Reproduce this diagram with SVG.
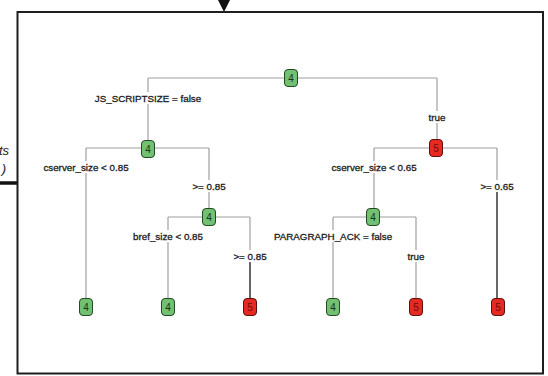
<svg xmlns="http://www.w3.org/2000/svg" width="548" height="376" viewBox="0 0 548 376">
  <style>
    .frame { fill: #ffffff; stroke: #1e1e1e; stroke-width: 2; }
    .edge { stroke: #a0a0a0; stroke-width: 1.2; fill: none; }
    .edge-dark { stroke: #2a2a2a; stroke-width: 1.2; fill: none; }
    .lbl { font-family: "Liberation Sans", Arial, sans-serif; font-size: 9.8px; fill: #1a1a1a; stroke: #1a1a1a; stroke-width: 0.3; text-anchor: middle; }
    .box-g { fill: #72c172; stroke: #244a24; stroke-width: 1; }
    .box-r { fill: #e62a22; stroke: #5c1010; stroke-width: 1; }
    .num { font-family: "Liberation Sans", Arial, sans-serif; font-size: 10px; text-anchor: middle; }
    .num-g { fill: #163416; }
    .num-r { fill: #6e0c0c; }
    .side { font-family: "Liberation Sans", Arial, sans-serif; font-size: 13px; font-style: italic; fill: #222; text-anchor: end; }
  </style>
  <defs>
    <rect id="nodebox" x="-6.5" y="-8.5" width="13" height="17" rx="3.5" ry="3.5"/>
  </defs>

  <rect x="0" y="0" width="548" height="376" fill="#ffffff"/>

  <!-- incoming arrow and side link -->
  <polygon points="218,0 230,0 224,12" fill="#111"/>
  <line x1="0" y1="183" x2="18" y2="183" stroke="#111" stroke-width="3.5"/>
  <text class="side" x="9" y="155">ts</text>
  <text class="side" x="6" y="173">)</text>

  <!-- frame -->
  <rect class="frame" x="17.5" y="12" width="525.5" height="361.5"/>

  <!-- connectors -->
  <g id="connectors">
    <!-- root split -->
    <path class="edge" d="M148,78 H437 M148,78 V92 M148,104 V141 M437,78 V111 M437,123 V140"/>
    <!-- left subtree level 1 -->
    <path class="edge" d="M86,148 H209 M86,148 V161 M86,173 V299 M209,148 V180 M209,192 V209"/>
    <!-- right subtree level 1 -->
    <path class="edge" d="M374,148 H497 M374,148 V161 M374,173 V209 M497,148 V180 M497,192 V299"/>
    <!-- left subtree level 2 -->
    <path class="edge" d="M168,217 H250 M168,217 V230 M168,242 V299 M250,217 V250 M250,262 V299"/>
    <!-- right subtree level 2 -->
    <path class="edge" d="M333,217 H416 M333,217 V230 M333,242 V299 M416,217 V250 M416,262 V299"/>
    <path class="edge-dark" d="M250,262 V299 M497,192 V299"/>

    <text class="lbl" x="148" y="101.5">JS_SCRIPTSIZE = false</text>
    <text class="lbl" x="437" y="120.5">true</text>
    <text class="lbl" x="86" y="171">cserver_size &lt; 0.85</text>
    <text class="lbl" x="209" y="190">&gt;= 0.85</text>
    <text class="lbl" x="374" y="171">cserver_size &lt; 0.65</text>
    <text class="lbl" x="497" y="190">&gt;= 0.65</text>
    <text class="lbl" x="168" y="240">bref_size &lt; 0.85</text>
    <text class="lbl" x="250" y="260">&gt;= 0.85</text>
    <text class="lbl" x="333" y="240">PARAGRAPH_ACK = false</text>
    <text class="lbl" x="416" y="260">true</text>
  </g>

  <!-- internal nodes -->
  <g id="n-root" transform="translate(291,78)">
    <use href="#nodebox" class="box-g"/>
    <text class="num num-g" x="0" y="3.6">4</text>
  </g>
  <g id="n-js-false" transform="translate(148,149)">
    <use href="#nodebox" class="box-g"/>
    <text class="num num-g" x="0" y="3.6">4</text>
  </g>
  <g id="n-js-true" transform="translate(436,148)">
    <use href="#nodebox" class="box-r"/>
    <text class="num num-r" x="0" y="3.6">5</text>
  </g>
  <g id="n-cserver-hi" transform="translate(209,217)">
    <use href="#nodebox" class="box-g"/>
    <text class="num num-g" x="0" y="3.6">4</text>
  </g>
  <g id="n-cserver-lo" transform="translate(373,217)">
    <use href="#nodebox" class="box-g"/>
    <text class="num num-g" x="0" y="3.6">4</text>
  </g>

  <!-- leaves -->
  <g id="leaf-1" transform="translate(86,307)">
    <use href="#nodebox" class="box-g"/>
    <text class="num num-g" x="0" y="3.6">4</text>
  </g>
  <g id="leaf-2" transform="translate(168,307)">
    <use href="#nodebox" class="box-g"/>
    <text class="num num-g" x="0" y="3.6">4</text>
  </g>
  <g id="leaf-3" transform="translate(250,307)">
    <use href="#nodebox" class="box-r"/>
    <text class="num num-r" x="0" y="3.6">5</text>
  </g>
  <g id="leaf-4" transform="translate(333,307)">
    <use href="#nodebox" class="box-g"/>
    <text class="num num-g" x="0" y="3.6">4</text>
  </g>
  <g id="leaf-5" transform="translate(416,307)">
    <use href="#nodebox" class="box-r"/>
    <text class="num num-r" x="0" y="3.6">5</text>
  </g>
  <g id="leaf-6" transform="translate(498,307)">
    <use href="#nodebox" class="box-r"/>
    <text class="num num-r" x="0" y="3.6">5</text>
  </g>
</svg>
